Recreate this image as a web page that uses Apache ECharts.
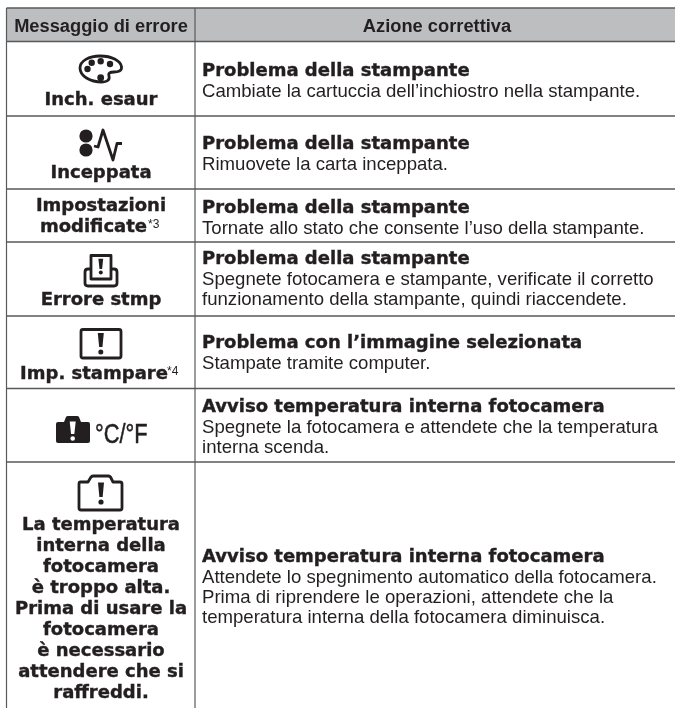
<!DOCTYPE html>
<html>
<head>
<meta charset="utf-8">
<title>Messaggi di errore</title>
<script src="https://cdn.jsdelivr.net/npm/echarts@6/dist/echarts.min.js"></script>
<style>
  html, body { margin: 0; padding: 0; background: #fff; }
  #main { width: 675px; height: 708px; }
</style>
</head>
<body>
<div id="main"></div>
<script>
// testi della tabella
var headers = ['Messaggio di errore', 'Azione correttiva'];
var messages = [
  ['Inch. esaur'],
  ['Inceppata'],
  ['Impostazioni', 'modificate'],
  ['Errore stmp'],
  ['Imp. stampare'],
  [],
  ['La temperatura', 'interna della', 'fotocamera', 'è troppo alta.', 'Prima di usare la', 'fotocamera', 'è necessario', 'attendere che si', 'raffreddi.']
];
var notes = ['', '', '*3', '', '*4', '', ''];
var titles = [
  'Problema della stampante',
  'Problema della stampante',
  'Problema della stampante',
  'Problema della stampante',
  'Problema con l’immagine selezionata',
  'Avviso temperatura interna fotocamera',
  'Avviso temperatura interna fotocamera'
];
var actions = [
  ['Cambiate la cartuccia dell’inchiostro nella stampante.'],
  ['Rimuovete la carta inceppata.'],
  ['Tornate allo stato che consente l’uso della stampante.'],
  ['Spegnete fotocamera e stampante, verificate il corretto', 'funzionamento della stampante, quindi riaccendete.'],
  ['Stampate tramite computer.'],
  ['Spegnete la fotocamera e attendete che la temperatura', 'interna scenda.'],
  ['Attendete lo spegnimento automatico della fotocamera.', 'Prima di riprendere le operazioni, attendete che la', 'temperatura interna della fotocamera diminuisca.']
];
var tempLabel = '°C/°F';

// griglia
var left = 6.5, mid = 195, right = 675, top0 = 8, headBottom = 41.5;
var rowLines = [116, 189, 242, 316, 388.5, 462];
var ink = '#231f20';
var lineColor = '#58595b';
var heavy = '"DejaVu Sans"';
var plain = '"Liberation Sans"';
// baseline della prima riga in ogni cella
var titleY = [76, 149, 213, 264, 348, 412, 562];
var msgY = [105, 178, 211, 305, 379, 0, 530];
var msgCenter = [[101], [101], [101, 93.5], [101], [94], [], [101]];
var noteX = [0, 0, 148, 0, 167, 0, 0];

var g = [];
var icons = [];
function line(x1, y1, x2, y2, w) {
  g.push({ type: 'line', shape: { x1: x1, y1: y1, x2: x2, y2: y2 }, style: { stroke: lineColor, lineWidth: w || 1.4 } });
}
// y = baseline del testo
function text(str, x, y, size, font, weight, align, stroke, sx) {
  var st = {
    text: str, fill: ink, font: weight + ' ' + size + 'px ' + font,
    textAlign: align || 'left', textVerticalAlign: 'bottom'
  };
  if (stroke) { st.stroke = ink; st.lineWidth = stroke; }
  g.push({ type: 'text', x: x, y: y + size * 0.22, scaleX: sx || 1, style: st });
}
function outline(d, w) {
  icons.push({ type: 'path', shape: { pathData: d }, style: { fill: 'none', stroke: ink, lineWidth: w || 2.8, lineJoin: 'round' } });
}
function solid(d, color) {
  icons.push({ type: 'path', shape: { pathData: d }, style: { fill: color || ink } });
}
function circle(x, y, r, color) {
  icons.push({ type: 'circle', shape: { cx: x, cy: y, r: r }, style: { fill: color || ink } });
}
function bang(x, y0, y1, w, dotY, dotR, color) {
  solid('M' + (x - w) + ' ' + y0 + 'L' + (x + w) + ' ' + y0 + 'L' + (x + w * 0.55) + ' ' + y1 + 'L' + (x - w * 0.55) + ' ' + y1 + 'Z', color);
  circle(x, dotY, dotR, color);
}

g.push({ type: 'rect', shape: { x: left, y: top0, width: right - left, height: headBottom - top0 }, style: { fill: '#bcbec0' } });
line(left, top0, right, top0, 1.6);
line(left, headBottom, right, headBottom, 1.6);
rowLines.forEach(function (y) { line(left, y, right, y); });
line(left, top0, left, 708, 1.2);
line(mid, top0, mid, 708, 1.2);

text(headers[0], 101, 32, 18.3, plain, 'bold', 'center');
text(headers[1], 437, 32, 18.3, plain, 'bold', 'center');

titles.forEach(function (t, i) {
  text(t, 202, titleY[i], 18, heavy, 'bold', 'left', 0.4);
  actions[i].forEach(function (a, k) {
    text(a, 202, titleY[i] + 21 + k * 20, 18.6, plain, 'normal');
  });
  messages[i].forEach(function (m, k) {
    var c = msgCenter[i][k] === undefined ? msgCenter[i][0] : msgCenter[i][k];
    text(m, c, msgY[i] + k * 21.1, 18, heavy, 'bold', 'center', 0.4);
  });
  if (notes[i]) text(notes[i], noteX[i], msgY[i] + (i === 2 ? 21 : 0) - 4, 12, plain, 'normal');
});
text(tempLabel, 95, 443, 28, plain, 'normal', 'left', 0.5, 0.78);

// icone
// tavolozza
outline('M100 56C112 56 121 61 121.5 67C122 71 118 72 114 72C110 72 108 73 109 76C110 80 107 82 102 82C90 82 80 76 80 68C80 61 89 56 100 56Z');
circle(87.5, 69, 3.2); circle(91.7, 62.7, 3.2); circle(100.7, 61.3, 3.2); circle(110, 64, 3.2); circle(100.7, 77.7, 3.4);
// carta inceppata
circle(86, 136, 6.6); circle(86, 150, 6.6);
outline('M94 146L98 147L103 130L113 160L117 143.5L122 143.5', 2.8);
// stampante
outline('M91 279V255.5H111V279ZM91 269H88Q85 269 85 272V283Q85 286 88 286H114Q117 286 117 283V272Q117 269 114 269H111');
bang(100.8, 258.7, 269, 2.4, 272.5, 2);
// immagine
outline('M83 329.5H119Q121 329.5 121 331.5V356Q121 358 119 358H83Q81 358 81 356V331.5Q81 329.5 83 329.5Z');
bang(100.8, 333, 347, 3, 352, 2.5);
// fotocamera piena
solid('M58 422H64L66 417Q66.5 416 68 416H77Q78.5 416 79 417L81 422H88Q90 422 90 424V441Q90 443 88 443H58Q56 443 56 441V424Q56 422 58 422Z');
bang(72.7, 421.5, 434, 3, 438.5, 2.3, '#fff');
// fotocamera vuota
outline('M80.5 482H88L91 477Q92 476 93.5 476H108Q109.5 476 110.5 477L113 482H120Q122 482 122 484V508Q122 510 120 510H81Q79 510 79 508V484Q79 482 80.5 482Z');
bang(101, 482.5, 497, 3, 502, 2.6);

var chart = echarts.init(document.getElementById('main'));
chart.setOption({
  animation: false,
  graphic: { elements: g },
  series: [{
    type: 'custom',
    coordinateSystem: 'none',
    silent: true,
    data: [[0]],
    renderItem: function () {
      return { type: 'group', children: icons };
    }
  }]
});
</script>
</body>
</html>
